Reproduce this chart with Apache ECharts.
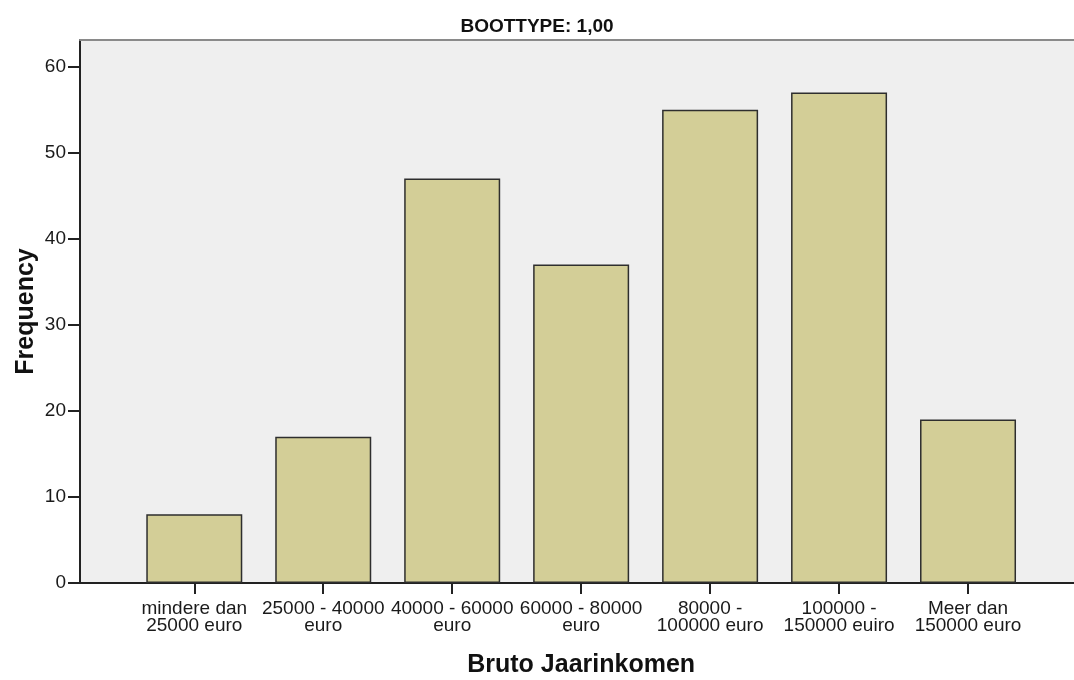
<!DOCTYPE html>
<html>
<head>
<meta charset="utf-8">
<script src="https://cdn.jsdelivr.net/npm/echarts@6/dist/echarts.min.js"></script>
<style>
html,body{margin:0;padding:0;background:#fff;}
#chart{width:1074px;height:680px;}
</style>
</head>
<body>
<div id="chart"></div>
<script>
const chartTitle = 'BOOTTYPE: 1,00';
const categories = [
  'mindere dan\n25000 euro',
  '25000 - 40000\neuro',
  '40000 - 60000\neuro',
  '60000 - 80000\neuro',
  '80000 -\n100000 euro',
  '100000 -\n150000 euiro',
  'Meer dan\n150000 euro'
];
const frequencies = [8, 17, 47, 37, 55, 57, 19];
const yTicks = [0, 10, 20, 30, 40, 50, 60];
const yMax = 63.1;
const xTitle = 'Bruto Jaarinkomen';
const yTitle = 'Frequency';

const FONT = '"Liberation Sans", Arial, sans-serif';
const chart = echarts.init(document.getElementById('chart'), null, {renderer: 'canvas'});

chart.setOption({
  animation: false,
  backgroundColor: '#ffffff',
  title: {
    text: chartTitle,
    left: 'center',
    top: 12,
    textStyle: {fontFamily: FONT, fontSize: 19, fontWeight: 'bold', color: '#111'}
  },
  grid: [
    {left: 80, top: 40, right: -10, bottom: 97, show: true, backgroundColor: '#EFEFEF', borderWidth: 0,
     containLabel: false, outerBoundsMode: 'none'},
    {left: 129.8, top: 40, right: 41.5, bottom: 97, show: false,
     containLabel: false, outerBoundsMode: 'none'}
  ],
  xAxis: [
    {gridIndex: 0, type: 'value', position: 'top', min: 0, max: 1,
     axisLine: {show: true, onZero: false, lineStyle: {color: '#8a8a8a', width: 2}},
     axisTick: {show: false}, axisLabel: {show: false}, splitLine: {show: false}},
    {gridIndex: 0, type: 'value', position: 'bottom', min: 0, max: 1,
     axisLine: {show: true, onZero: false, lineStyle: {color: '#222', width: 2}},
     axisTick: {show: false}, axisLabel: {show: false}, splitLine: {show: false}},
    {gridIndex: 1, type: 'category', data: categories, position: 'bottom',
     axisLine: {show: false},
     axisTick: {show: true, alignWithLabel: true, length: 11, lineStyle: {color: '#222', width: 2}},
     axisLabel: {interval: 0, margin: 17, fontFamily: FONT, fontSize: 19, lineHeight: 17, color: '#1a1a1a'},
     splitLine: {show: false},
     name: xTitle, nameLocation: 'middle', nameGap: 70, nameMoveOverlap: false,
     nameTextStyle: {fontFamily: FONT, fontSize: 25, fontWeight: 'bold', color: '#111'}}
  ],
  yAxis: [
    {gridIndex: 0, type: 'value', min: 0, max: yMax,
     axisLine: {show: true, onZero: false, lineStyle: {color: '#222', width: 2}},
     axisTick: {show: true, length: 12, customValues: yTicks, lineStyle: {color: '#222', width: 2}},
     axisLabel: {margin: 14, customValues: yTicks, fontFamily: FONT, fontSize: 19, color: '#1a1a1a'},
     splitLine: {show: false},
     name: yTitle, nameLocation: 'middle', nameGap: 41, nameMoveOverlap: false,
     nameTextStyle: {fontFamily: FONT, fontSize: 25, fontWeight: 'bold', color: '#111'}},
    {gridIndex: 1, type: 'value', min: 0, max: yMax, show: false, splitLine: {show: false}}
  ],
  series: [{
    type: 'bar',
    xAxisIndex: 2,
    yAxisIndex: 1,
    data: frequencies,
    barWidth: 96,
    itemStyle: {color: '#D3CE97', borderColor: '#2e2e2e', borderWidth: 1.5}
  }]
});
</script>
</body>
</html>
